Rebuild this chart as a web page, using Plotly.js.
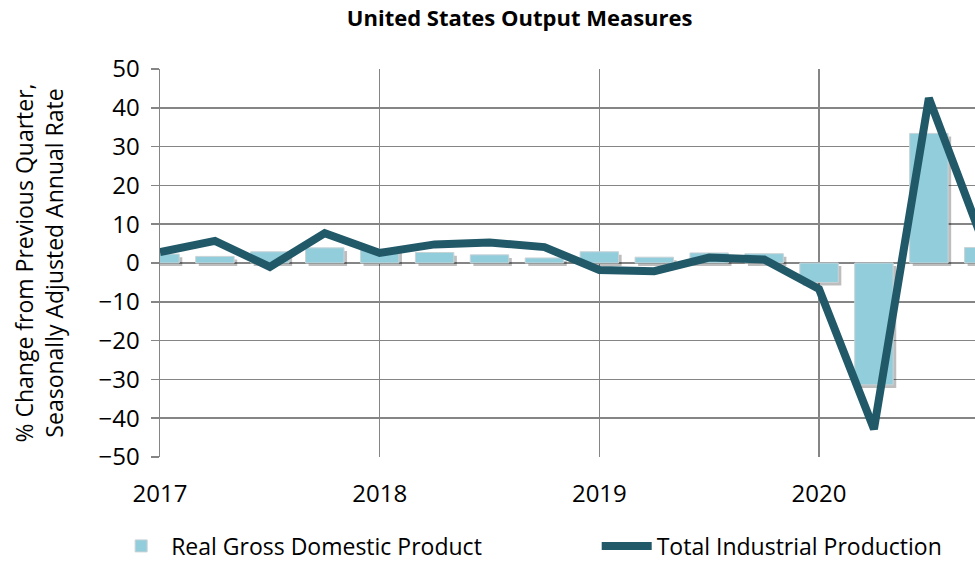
<!DOCTYPE html>
<html>
<head>
<meta charset="utf-8">
<script src="https://cdn.plot.ly/plotly-3.0.1.min.js"></script>
<style>
  html, body { margin: 0; padding: 0; background: #fff; }
  #chart { width: 975px; height: 564px; }
</style>
</head>
<body>
<div id="chart"></div>
<script>
// quarterly series, % change from previous quarter (SAAR)
const quarters = ["2017Q1", "2017Q2", "2017Q3", "2017Q4",
                  "2018Q1", "2018Q2", "2018Q3", "2018Q4",
                  "2019Q1", "2019Q2", "2019Q3", "2019Q4",
                  "2020Q1", "2020Q2", "2020Q3", "2020Q4"];
const gdp = [2.3, 1.7, 2.9, 3.9, 3.6, 2.7, 2.1, 1.3, 2.9, 1.5, 2.6, 2.4, -5.0, -31.4, 33.4, 4.0];
const indProd = [2.8, 5.7, -1.0, 7.7, 2.6, 4.8, 5.3, 4.1, -1.8, -2.1, 1.4, 0.9, -6.7, -42.8, 42.5, 5.0];
const yearTicks = [2017, 2018, 2019, 2020];

const C = {
  bar: "#92CDDC", barEdge: "#C9D3D6", line: "#215968",
  grid: "#858585", ink: "#000000", shadow: "rgba(0,0,0,0.26)",
  font: "Open Sans, Noto Sans, sans-serif",
};

// "2019Q3" -> 2019.5
const x = quarters.map(q => +q.slice(0, 4) + (+q.slice(5) - 1) / 4);

const BAR_W = 0.175;
const data = [
  { // soft drop shadow under each bar
    type: "bar", x: x, y: gdp, base: gdp.map(() => -0.8),
    width: BAR_W, offset: -BAR_W / 2 + 0.014,
    marker: { color: C.shadow, line: { width: 0 } },
    showlegend: false, hoverinfo: "skip",
  },
  {
    type: "bar", x: x, y: gdp, name: "Real Gross Domestic Product",
    width: BAR_W, offset: -BAR_W / 2, legend: "legend",
    marker: { color: C.bar, line: { color: C.barEdge, width: 1 } },
  },
  {
    type: "scatter", mode: "lines", x: x, y: indProd,
    name: "Total Industrial Production", legend: "legend2",
    line: { color: C.line, width: 8 },
  },
];

const LEG = {
  orientation: "h", xref: "container", yref: "container",
  xanchor: "left", y: 0.032, yanchor: "middle", itemwidth: 50,
  font: { size: 23, color: C.ink }, bgcolor: "rgba(0,0,0,0)",
};

const layout = {
  width: 975, height: 564,
  paper_bgcolor: "#fff", plot_bgcolor: "#fff",
  font: { family: C.font, size: 24, color: C.ink },
  margin: { l: 160, r: 0, t: 69, b: 107 },
  barmode: "overlay",
  title: {
    text: "<b>United States Output Measures</b>",
    font: { size: 22, color: C.ink },
    xref: "container", x: 0.533, xanchor: "center",
    yref: "container", y: 0.968, yanchor: "middle",
  },
  xaxis: {
    range: [2017, 2020.71], tickvals: yearTicks, ticktext: yearTicks.map(String),
    showgrid: true, gridcolor: C.grid, gridwidth: 1.5,
    zeroline: false, showline: false, automargin: false,
    ticks: "", ticklabelstandoff: 20, fixedrange: true,
  },
  yaxis: {
    range: [-50, 50], dtick: 10, automargin: false,
    showgrid: true, gridcolor: C.grid, gridwidth: 1.5,
    zeroline: false, showline: true, linecolor: C.grid, linewidth: 1.5,
    ticks: "outside", ticklen: 8, tickcolor: C.grid, tickwidth: 1.5,
    ticklabelstandoff: 6,
    title: {
      text: "% Change from Previous Quarter,<br>Seasonally Adjusted Annual Rate",
      font: { size: 23 }, standoff: 28,
    },
    fixedrange: true,
  },
  showlegend: true,
  legend: Object.assign({}, LEG, { x: 0.114 }),
  legend2: Object.assign({}, LEG, { x: 0.612 }),
};

Plotly.newPlot("chart", data, layout, { displayModeBar: false, staticPlot: true });
</script>
</body>
</html>
